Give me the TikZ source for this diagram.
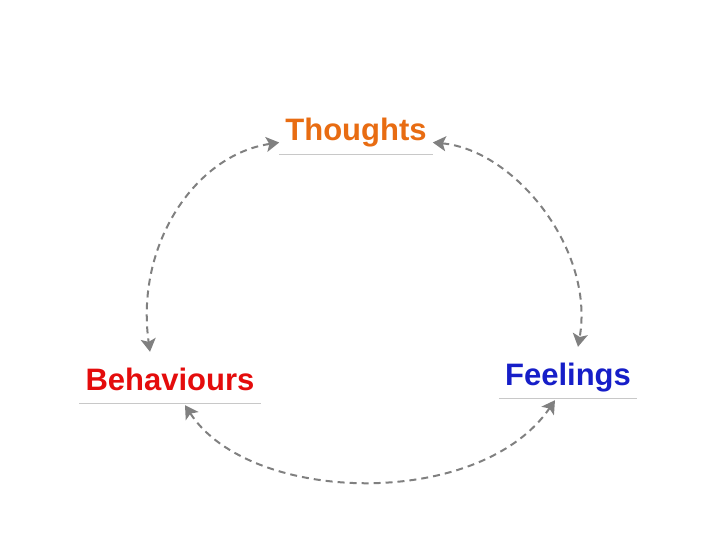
\documentclass[tikz,border=0pt]{standalone}
\usepackage{fontspec}
\setmainfont{Liberation Sans}
\usetikzlibrary{arrows.meta}
\definecolor{thoughtorange}{RGB}{232,108,18}
\definecolor{behavred}{RGB}{228,12,12}
\definecolor{feelblue}{RGB}{22,30,200}
\definecolor{loopgray}{RGB}{128,128,128}
\definecolor{rulegray}{RGB}{200,200,200}

\begin{document}
\begin{tikzpicture}[x=1pt, y=-1pt]
	% Define styles
	\tikzset{
		word/.style={anchor=base, inner xsep=6pt, inner ysep=5pt, text height=23pt, text depth=8pt, font=\bfseries\fontsize{31}{31}\selectfont},
		rule/.style={draw=rulegray, line width=1pt},
		arrow/.style={draw=loopgray, line width=2pt, dash pattern=on 7pt off 5pt, {Stealth[length=13pt,width=15pt,inset=3pt]}-{Stealth[length=13pt,width=15pt,inset=3pt]}}
	}
	\useasboundingbox (0,0) rectangle (720,540);

	% Nodes
	\node (thoughts) [word, text=thoughtorange] at (356,141) {Thoughts};
	\node (behaviours) [word, text=behavred] at (170,390) {Behaviours};
	\node (feelings) [word, text=feelblue] at (568,385) {Feelings};

	% Underlines
	\draw [rule] (thoughts.south west) -- (thoughts.south east);
	\draw [rule] (behaviours.south west) -- (behaviours.south east);
	\draw [rule] (feelings.south west) -- (feelings.south east);

	% Arrows
	\draw [arrow] ([yshift=-9pt]thoughts.west) .. controls (195,155) and (135,245) .. ([xshift=-20pt,yshift=10pt]behaviours.north);
	\draw [arrow] ([yshift=-9pt]thoughts.east) .. controls (515,150) and (595,250) .. ([xshift=10pt,yshift=10pt]feelings.north);
	\draw [arrow] ([xshift=15pt,yshift=-2pt]behaviours.south) .. controls (250,505) and (480,510) .. ([xshift=-13pt,yshift=-2pt]feelings.south);
\end{tikzpicture}
\end{document}
